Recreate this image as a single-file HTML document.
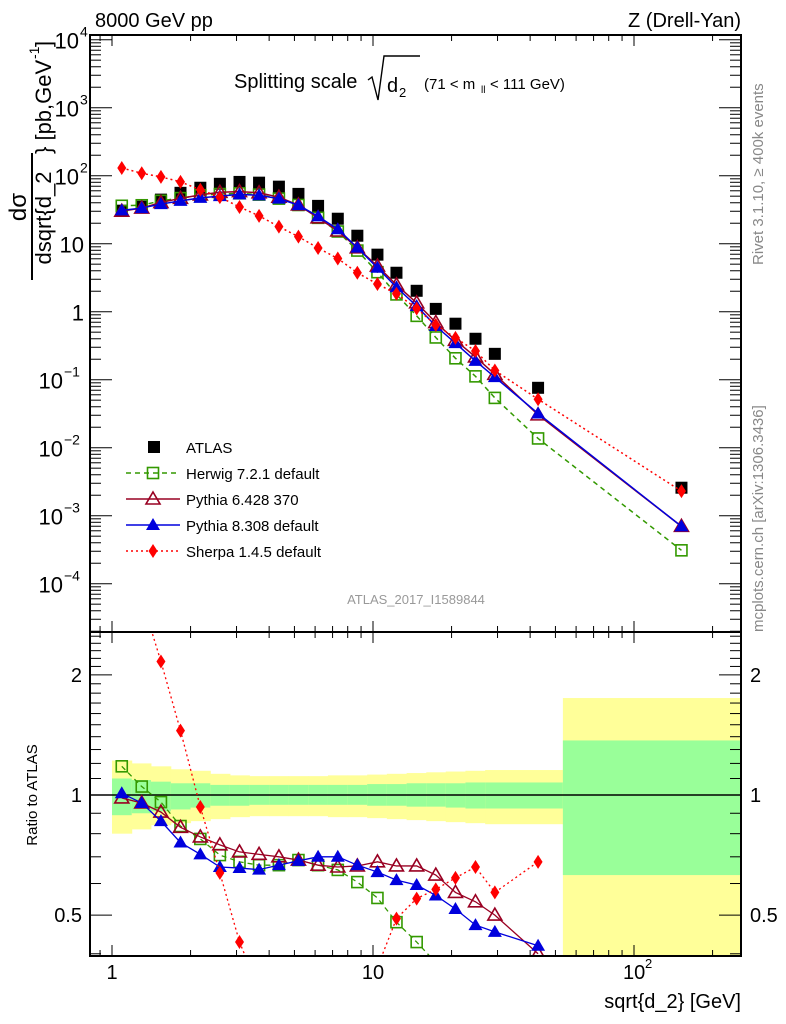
<!DOCTYPE html>
<html><head><meta charset="utf-8"><style>
html,body{margin:0;background:#fff;overflow:hidden;width:786px;height:1024px;}
svg{display:block;font-family:"Liberation Sans",Arial,sans-serif;}
</style></head><body>
<svg id="c" width="786" height="1024" viewBox="0 0 786 1024">
<text x="95" y="27" font-size="20">8000 GeV pp</text>
<text x="741" y="27" font-size="20" text-anchor="end">Z (Drell-Yan)</text>
<g>
<text x="234" y="88" font-size="20">Splitting scale</text>
<path d="M368,80 L372,77 L378,100 L384,56 L420,56" stroke="#000" stroke-width="1.4" fill="none"/>
<text x="387" y="92" font-size="20">d</text><text x="399" y="97" font-size="13">2</text>
<text x="424" y="89" font-size="15">(71 &lt; m</text><text x="481" y="93" font-size="10">ll</text><text x="490" y="89" font-size="15">&lt; 111 GeV)</text>
</g>
<g transform="translate(0,280) rotate(-90)">
<text x="73" y="26" font-size="24" text-anchor="middle">dσ</text>
<line x1="0" y1="32" x2="127" y2="32" stroke="#000" stroke-width="2"/>
<text x="62" y="51" font-size="22" text-anchor="middle">dsqrt{d_2</text>
<text x="126" y="51" font-size="22">} [pb,GeV</text><text x="221" y="39" font-size="14">-1</text><text x="233" y="51" font-size="22">]</text>
</g>
<text transform="translate(763,265) rotate(-90)" font-size="15" fill="#888">Rivet 3.1.10, ≥ 400k events</text>
<text transform="translate(763,632) rotate(-90)" font-size="15" fill="#888">mcplots.cern.ch [arXiv:1306.3436]</text>
<text x="416" y="604" font-size="13" fill="#999" text-anchor="middle">ATLAS_2017_I1589844</text>
<text transform="translate(37,795) rotate(-90)" font-size="15" text-anchor="middle">Ratio to ATLAS</text>
<text x="741" y="1008" font-size="20" text-anchor="end">sqrt{d_2} [GeV]</text>
<g id="bands"></g><g id="main"></g><g id="ratio"></g><g id="axes"></g><g id="legend"></g>
</svg>
<script>
const xCenters=[1.09,1.30,1.54,1.83,2.18,2.59,3.08,3.66,4.36,5.18,6.16,7.33,8.71,10.4,12.3,14.7,17.4,20.7,24.7,29.3,42.9,152];
const xEdges=[1.0,1.19,1.41,1.68,2.0,2.38,2.83,3.36,4.0,4.75,5.65,6.72,8.0,9.5,11.3,13.45,16.0,19.0,22.6,26.9,53.4,53.4,500];
const atlas=[30.6,35,44.5,56,66.5,76,81,79,69,54,36,23.3,13.1,6.9,3.74,2.03,1.1,0.666,0.40,0.24,0.076,0.00258];
const herwigR=[1.18,1.05,0.96,0.836,0.776,0.707,0.68,0.667,0.667,0.687,0.667,0.649,0.605,0.552,0.48,0.428,0.38,0.31,0.28,0.225,0.18,0.12];
const py6R=[0.983,0.955,0.906,0.83,0.785,0.75,0.72,0.71,0.70,0.687,0.667,0.66,0.664,0.68,0.664,0.664,0.63,0.57,0.54,0.50,0.40,0.27];
const py8R=[1.01,0.955,0.86,0.76,0.71,0.66,0.656,0.65,0.667,0.684,0.70,0.70,0.667,0.641,0.612,0.595,0.56,0.518,0.472,0.454,0.419,0.27];
const sherpaR=[4.25,3.1,2.16,1.45,0.933,0.638,0.428,0.325,0.258,0.235,0.24,0.26,0.285,0.37,0.49,0.55,0.58,0.62,0.66,0.57,0.68,0.89];
const greenUp=[1.10,1.09,1.08,1.07,1.07,1.06,1.06,1.06,1.06,1.06,1.06,1.06,1.06,1.065,1.065,1.07,1.07,1.07,1.075,1.075,1.075,1.37];
const greenDn=[0.89,0.90,0.91,0.92,0.93,0.94,0.94,0.945,0.945,0.945,0.945,0.945,0.945,0.94,0.94,0.935,0.935,0.93,0.925,0.925,0.925,0.63];
const yellowUp=[1.22,1.20,1.18,1.16,1.15,1.13,1.12,1.115,1.115,1.115,1.115,1.12,1.12,1.125,1.13,1.135,1.14,1.145,1.15,1.155,1.16,1.75];
const yellowDn=[0.80,0.82,0.84,0.85,0.86,0.87,0.88,0.885,0.885,0.885,0.885,0.88,0.88,0.875,0.87,0.865,0.86,0.855,0.85,0.845,0.84,0.30];
const nRatio=21;

const NS='http://www.w3.org/2000/svg';
const L=90,R=741,T=35,MB=632,RB=956;
const X=v=>112+261*Math.log10(v);
const Y=v=>311.7-68*Math.log10(v);
const YR=v=>795-399*Math.log10(v);
function mk(tag,attrs,parent){const e=document.createElementNS(NS,tag);for(const k in attrs)e.setAttribute(k,attrs[k]);parent.appendChild(e);return e;}
const svg=document.getElementById('c');
const defs=mk('defs',{},svg);
const c1=mk('clipPath',{id:'cm'},defs);mk('rect',{x:L,y:T,width:R-L,height:MB-T},c1);
const c2=mk('clipPath',{id:'cr'},defs);mk('rect',{x:L,y:MB,width:R-L,height:RB-MB},c2);

const gb=document.getElementById('bands');gb.setAttribute('clip-path','url(#cr)');
function bandIdx(i){return i<21?[xEdges[i],xEdges[i+1]]:[xEdges[21],xEdges[22]];}
for(let i=0;i<22;i++){const [a,b]=bandIdx(i);
 const y=mk('rect',{x:X(a),y:YR(yellowUp[i]),width:X(b)-X(a)+0.5,height:YR(yellowDn[i])-YR(yellowUp[i]),fill:'#ffff99'},gb);
 
 const g=mk('rect',{x:X(a),y:YR(greenUp[i]),width:X(b)-X(a)+0.5,height:YR(greenDn[i])-YR(greenUp[i]),fill:'#99ff99'},gb);
 }
mk('line',{x1:L,y1:YR(1),x2:R,y2:YR(1),stroke:'#000','stroke-width':1.5},gb);

function marker(par,type,cx,cy,col){
 let e;
 if(type==='sq') e=mk('rect',{x:cx-6,y:cy-6,width:12,height:12,fill:'#000'},par);
 else if(type==='osq') e=mk('rect',{x:cx-5.5,y:cy-5.5,width:11,height:11,fill:'none',stroke:col,'stroke-width':1.6},par);
 else if(type==='otri') e=mk('path',{d:`M${cx},${cy-7} L${cx+7},${cy+5} L${cx-7},${cy+5}Z`,fill:'none',stroke:col,'stroke-width':1.6},par);
 else if(type==='tri') e=mk('path',{d:`M${cx},${cy-7} L${cx+7},${cy+5} L${cx-7},${cy+5}Z`,fill:col},par);
 else e=mk('path',{d:`M${cx},${cy-7} L${cx+4.5},${cy} L${cx},${cy+7} L${cx-4.5},${cy}Z`,fill:col},par);
 return e;}
const series=[
 {name:'herwig',r:herwigR,col:'#339900',m:'osq',dash:'5,4',lab:'Herwig 7.2.1 default'},
 {name:'pythia6',r:py6R,col:'#990022',m:'otri',dash:'',lab:'Pythia 6.428 370'},
 {name:'pythia8',r:py8R,col:'#0000dd',m:'tri',dash:'',lab:'Pythia 8.308 default'},
 {name:'sherpa',r:sherpaR,col:'#ff0000',m:'dia',dash:'2,3',lab:'Sherpa 1.4.5 default'}];
const gm=document.getElementById('main');gm.setAttribute('clip-path','url(#cm)');
const gr=document.getElementById('ratio');gr.setAttribute('clip-path','url(#cr)');
atlas.forEach((v,i)=>{const e=marker(gm,'sq',X(xCenters[i]),Y(v));
 });
series.forEach(s=>{
 const pts=s.r.map((r,i)=>[X(xCenters[i]),Y(r*atlas[i])]);
 const pl=mk('polyline',{points:pts.map(p=>p.join(',')).join(' '),fill:'none',stroke:s.col,'stroke-width':1.5,'stroke-dasharray':s.dash},gm);
 
 pts.forEach(p=>{const e=marker(gm,s.m,p[0],p[1],s.col);
  });
 const rp=s.r.slice(0,nRatio).map((r,i)=>[X(xCenters[i]),YR(r)]);
 const rl=mk('polyline',{points:rp.map(p=>p.join(',')).join(' '),fill:'none',stroke:s.col,'stroke-width':1.3,'stroke-dasharray':s.dash},gr);
 
 rp.forEach(p=>{const e=marker(gr,s.m,p[0],p[1],s.col);
  });
});

const ga=document.getElementById('axes');
function ln(x1,y1,x2,y2,w){mk('line',{x1,y1,x2,y2,stroke:'#000','stroke-width':w||1},ga);}
const f1=mk('rect',{x:L,y:T,width:R-L,height:MB-T,fill:'none',stroke:'#000','stroke-width':2},ga);

const f2=mk('rect',{x:L,y:MB,width:R-L,height:RB-MB,fill:'none',stroke:'#000','stroke-width':2},ga);

for(let d=-1;d<=2;d++)for(let k=1;k<10;k++){const v=k*Math.pow(10,d);const x=X(v);if(x<L||x>R)continue;
 const len=k===1?11:6;
 [[T,1],[MB,-1],[MB,1],[RB,-1]].forEach(([y,s])=>ln(x,y,x,y+s*len,1));}
[[1,'1'],[10,'10']].forEach(([v,t])=>{const e=mk('text',{x:X(v),y:979,'font-size':20,'text-anchor':'middle'},ga);e.textContent=t;});
{const e=mk('text',{x:X(100)-11,y:979,'font-size':20},ga);e.textContent='10';
 const s=mk('text',{x:X(100)+11,y:968,'font-size':13},ga);s.textContent='2';}
for(let d=-5;d<=4;d++)for(let k=1;k<10;k++){const v=k*Math.pow(10,d);const y=Y(v);if(y<T||y>MB)continue;
 const len=k===1?22:11;ln(L,y,L+len,y);ln(R,y,R-len,y);}
const ylabs=[[4,'10','4'],[3,'10','3'],[2,'10','2'],[1,'10',''],[0,'1',''],[-1,'10','−1'],[-2,'10','−2'],[-3,'10','−3'],[-4,'10','−4']];
ylabs.forEach(([d,b,s])=>{const y=Y(Math.pow(10,d))+9;
 const endx=!s?84:(s.length>1?63:79);
 const e=mk('text',{x:endx,y,'font-size':22,'text-anchor':'end'},ga);e.textContent=b;
 if(s){const t=mk('text',{x:endx+1,y:y-12,'font-size':14},ga);t.textContent=s;}});
const rmaj=[0.5,1,2];
for(let k=4;k<=25;k++){const v=k/10;const y=YR(v);if(y<MB||y>RB)continue;
 const len=rmaj.includes(v)?22:11;ln(L,y,L+len,y);ln(R,y,R-len,y);}
rmaj.forEach(v=>{const y=YR(v)+7;
 const a=mk('text',{x:82,y,'font-size':20,'text-anchor':'end'},ga);a.textContent=String(v);
 const b=mk('text',{x:750,y,'font-size':20},ga);b.textContent=String(v);});

const gl=document.getElementById('legend');
marker(gl,'sq',154,447);
const t0=mk('text',{x:186,y:453,'font-size':15},gl);t0.textContent='ATLAS';

series.forEach((s,i)=>{const y=473+i*26;
 mk('line',{x1:126,y1:y,x2:180,y2:y,stroke:s.col,'stroke-width':1.5,'stroke-dasharray':s.dash},gl);
 marker(gl,s.m,153,y,s.col);
 const t=mk('text',{x:186,y:y+6,'font-size':15},gl);t.textContent=s.lab;
 });
</script>
</body></html>
